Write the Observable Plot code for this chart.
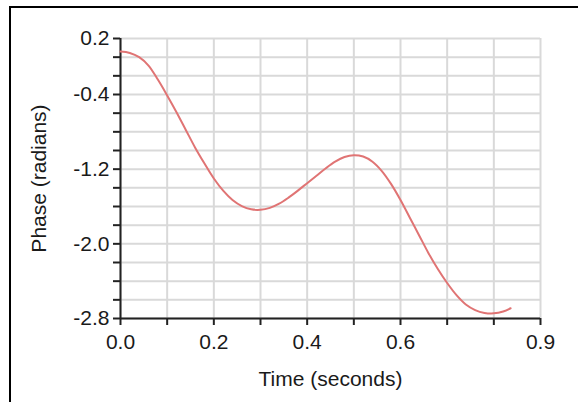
<!DOCTYPE html>
<html>
<head>
<meta charset="utf-8">
<script src="https://cdn.jsdelivr.net/npm/d3@7"></script>
<script src="https://cdn.jsdelivr.net/npm/@observablehq/plot@0.6"></script>
<style>
  html, body { margin: 0; padding: 0; background: #fff; }
  #wrap { position: relative; width: 578px; height: 402px; overflow: hidden; }
  #frame { position: absolute; left: 9px; top: 6px; right: -10px; bottom: -10px;
           border-top: 2px solid #000; border-left: 2px solid #000; pointer-events: none; }
  #chart { position: absolute; left: 0; top: 0; }
</style>
</head>
<body>
<div id="wrap"><div id="chart"></div><div id="frame"></div></div>
<script>
// Data
const times = [0.00, 0.02, 0.04, 0.06, 0.08, 0.10, 0.12, 0.14, 0.16, 0.18, 0.20,
  0.22, 0.24, 0.26, 0.28, 0.30, 0.32, 0.34, 0.36, 0.38, 0.40, 0.42, 0.44, 0.46,
  0.48, 0.50, 0.52, 0.54, 0.56, 0.58, 0.60, 0.62, 0.64, 0.66, 0.68, 0.70, 0.72,
  0.74, 0.76, 0.78, 0.80, 0.82, 0.836];
const phases = [0.06, 0.045, 0.00, -0.09, -0.24, -0.41, -0.59, -0.78, -0.97, -1.14, -1.30,
  -1.43, -1.53, -1.595, -1.63, -1.635, -1.615, -1.57, -1.505, -1.43, -1.35, -1.27, -1.19, -1.12,
  -1.07, -1.05, -1.065, -1.12, -1.22, -1.36, -1.53, -1.72, -1.91, -2.10, -2.27, -2.42, -2.55,
  -2.65, -2.71, -2.74, -2.745, -2.725, -2.69];

const xTicks = [0, 0.1, 0.2, 0.3, 0.4, 0.5, 0.6, 0.7, 0.8, 0.9];
const xTickLabels = ["0.0", "", "0.2", "", "0.4", "", "0.6", "", "", "0.9"];
const yTicks = [0.2, 0.0, -0.2, -0.4, -0.6, -0.8, -1.0, -1.2, -1.4, -1.6, -1.8, -2.0, -2.2, -2.4, -2.6, -2.8];
const yTickLabels = ["0.2", "", "", "-0.4", "", "", "", "-1.2", "", "", "", "-2.0", "", "", "", "-2.8"];

const data = times.map((t, i) => ({t, p: phases[i]}));
const xLab = new Map(xTicks.map((v, i) => [v, xTickLabels[i]]));
const yLab = new Map(yTicks.map((v, i) => [v, yTickLabels[i]]));

const chart = Plot.plot({
  width: 578,
  height: 402,
  marginLeft: 120,
  marginRight: 38,
  marginTop: 38,
  marginBottom: 84,
  style: { fontFamily: "'Liberation Sans', Arial, sans-serif", fontSize: "21px", background: "transparent", color: "#1a1a1a" },
  x: { domain: [0, 0.9] },
  y: { domain: [-2.8, 0.2] },
  marks: [
    Plot.gridX(xTicks, { stroke: "#d9d9d9", strokeOpacity: 1, strokeWidth: 2 }),
    Plot.gridY(yTicks, { stroke: "#d9d9d9", strokeOpacity: 1, strokeWidth: 2 }),
    Plot.axisX(xTicks, {
      tickSize: 7, tickPadding: 9, strokeWidth: 2, stroke: "#222",
      tickFormat: d => xLab.get(d) ?? "",
      label: "Time (seconds)", labelAnchor: "center", labelArrow: "none", labelOffset: 67
    }),
    Plot.axisY(yTicks, {
      tickSize: 7, tickPadding: 4, strokeWidth: 2, stroke: "#222",
      tickFormat: d => yLab.get(d) ?? "",
      label: "Phase (radians)", labelAnchor: "center", labelArrow: "none", labelOffset: 89
    }),
    Plot.ruleX([0], { stroke: "#222", strokeWidth: 2 }),
    Plot.ruleY([-2.8], { stroke: "#222", strokeWidth: 2 }),
    Plot.line(data, { x: "t", y: "p", stroke: "#e07474", strokeWidth: 2, curve: "catmull-rom" })
  ]
});
document.getElementById("chart").appendChild(chart);
</script>
</body>
</html>
